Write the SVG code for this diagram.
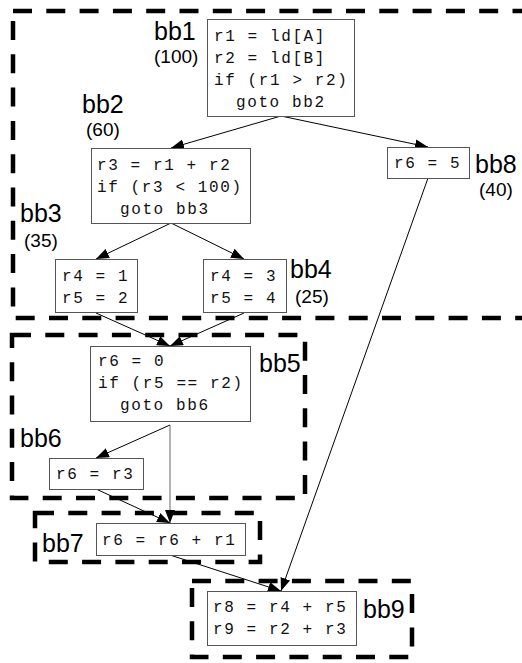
<svg xmlns="http://www.w3.org/2000/svg" width="522" height="663" viewBox="0 0 522 663">
<style>
.region{fill:none;stroke:#000;stroke-width:4.5;stroke-dasharray:19 14.3}
.box{fill:#fff;stroke:#555;stroke-width:1}
.code{font-family:"Liberation Mono","DejaVu Sans Mono",monospace;font-size:16px;letter-spacing:1.6px;fill:#111}
.lbl{font-family:"Liberation Sans",Arial,sans-serif;font-size:25px;fill:#000}
.cnt{font-family:"Liberation Sans",Arial,sans-serif;font-size:19px;fill:#000}
.edge{fill:none;stroke:#000;stroke-width:1;marker-end:url(#arr)}
</style>
<defs>
<marker id="arr" markerUnits="userSpaceOnUse" markerWidth="14" markerHeight="10" refX="13" refY="5" orient="auto">
<path d="M0,0 L13,5 L0,10 Z" fill="#000"/>
</marker>
</defs>
<rect width="522" height="663" fill="#fff"/>
<g id="regions">
<rect class="region" x="13" y="11" width="540" height="307"/>
<rect class="region" x="12" y="335" width="293" height="163"/>
<rect class="region" x="35" y="513" width="225" height="49"/>
<rect class="region" x="192" y="581" width="220" height="76"/>
</g>
<g id="connectors">
<line class="edge" x1="281" y1="116" x2="171" y2="148"/>
<line class="edge" x1="281" y1="116" x2="428" y2="147"/>
<line class="edge" x1="171" y1="223" x2="96" y2="259"/>
<line class="edge" x1="171" y1="223" x2="244" y2="259"/>
<line class="edge" x1="96" y1="313" x2="170" y2="346"/>
<line class="edge" x1="244" y1="313" x2="170" y2="346"/>
<line class="edge" x1="170" y1="425" x2="96" y2="458"/>
<line class="edge" x1="170" y1="425" x2="170" y2="523" style="stroke:#666"/>
<line class="edge" x1="96" y1="489" x2="170" y2="523"/>
<line class="edge" x1="428" y1="178" x2="281" y2="591"/>
<line class="edge" x1="170" y1="555" x2="281" y2="591"/>
</g>
<g id="bb1">
<rect class="box" x="207.5" y="19.5" width="147" height="97"/>
<text class="code" x="214" y="41">r1 = ld[A]</text>
<text class="code" x="214" y="63">r2 = ld[B]</text>
<text class="code" x="214" y="85">if (r1 &gt; r2)</text>
<text class="code" x="236" y="107">goto bb2</text>
<text class="lbl" x="154" y="40">bb1</text>
<text class="cnt" x="154" y="63">(100)</text>
</g>
<g id="bb2">
<rect class="box" x="91.5" y="148.5" width="159" height="75"/>
<text class="code" x="97" y="170">r3 = r1 + r2</text>
<text class="code" x="97" y="192">if (r3 &lt; 100)</text>
<text class="code" x="120" y="214">goto bb3</text>
<text class="lbl" x="82" y="113">bb2</text>
<text class="cnt" x="86" y="136">(60)</text>
</g>
<g id="bb8">
<rect class="box" x="387.5" y="147.5" width="82" height="31"/>
<text class="code" x="394" y="168">r6 = 5</text>
<text class="lbl" x="475" y="173">bb8</text>
<text class="cnt" x="479" y="196">(40)</text>
</g>
<g id="bb3">
<rect class="box" x="55.5" y="259.5" width="82" height="53"/>
<text class="code" x="62" y="281">r4 = 1</text>
<text class="code" x="62" y="303">r5 = 2</text>
<text class="lbl" x="20" y="222">bb3</text>
<text class="cnt" x="24" y="247">(35)</text>
</g>
<g id="bb4">
<rect class="box" x="203.5" y="259.5" width="83" height="53"/>
<text class="code" x="210" y="281">r4 = 3</text>
<text class="code" x="210" y="303">r5 = 4</text>
<text class="lbl" x="290" y="278">bb4</text>
<text class="cnt" x="295" y="303">(25)</text>
</g>
<g id="bb5">
<rect class="box" x="90.5" y="346.5" width="160" height="75"/>
<text class="code" x="98" y="366">r6 = 0</text>
<text class="code" x="98" y="388">if (r5 == r2)</text>
<text class="code" x="120" y="410">goto bb6</text>
<text class="lbl" x="259" y="372">bb5</text>
</g>
<g id="bb6">
<rect class="box" x="49.5" y="458.5" width="94" height="31"/>
<text class="code" x="56" y="479">r6 = r3</text>
<text class="lbl" x="20" y="447">bb6</text>
</g>
<g id="bb7">
<rect class="box" x="96.5" y="523.5" width="149" height="32"/>
<text class="code" x="102" y="545">r6 = r6 + r1</text>
<text class="lbl" x="42" y="552">bb7</text>
</g>
<g id="bb9">
<rect class="box" x="207.5" y="591.5" width="149" height="54"/>
<text class="code" x="213" y="612">r8 = r4 + r5</text>
<text class="code" x="213" y="634">r9 = r2 + r3</text>
<text class="lbl" x="363" y="618">bb9</text>
</g>
</svg>
